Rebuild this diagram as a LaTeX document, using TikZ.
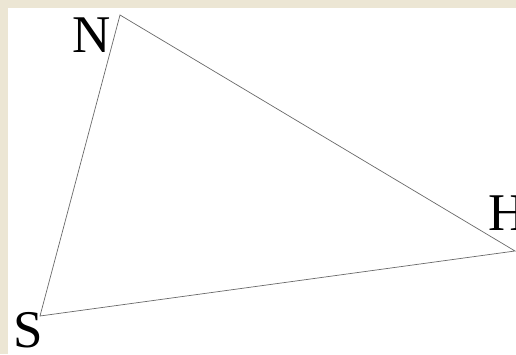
\documentclass[tikz,border=0pt]{standalone}
\usepackage{fontspec}
\setmainfont{Liberation Serif}
\usetikzlibrary{calc}
\definecolor{parchment}{RGB}{236,230,212}
\definecolor{edgegray}{RGB}{105,105,105}

\begin{document}
\begin{tikzpicture}[x=1pt, y=-1pt,
    side/.style={draw=edgegray, line width=0.7pt, line join=miter},
    letter/.style={inner sep=0pt, font=\fontsize{53}{53}\selectfont}]
  % Background
  \fill[parchment] (0,0) rectangle (516,354);
  \fill[white] (8,8) rectangle (516,354);
  \useasboundingbox (0,0) rectangle (516,354);

  % Corners
  \coordinate (N) at (120,15);
  \coordinate (H) at (515,251);
  \coordinate (S) at (40,316);

  % Triangle
  \draw[side] (N) -- (H) -- (S) -- cycle;

  % Labels
  \node[letter, anchor=base east] (lblN) at (111,52) {N};
  \node[letter, anchor=base west] (lblH) at (488,230) {H};
  \node[letter, anchor=base west] (lblS) at (13,347) {S};
\end{tikzpicture}
\end{document}
